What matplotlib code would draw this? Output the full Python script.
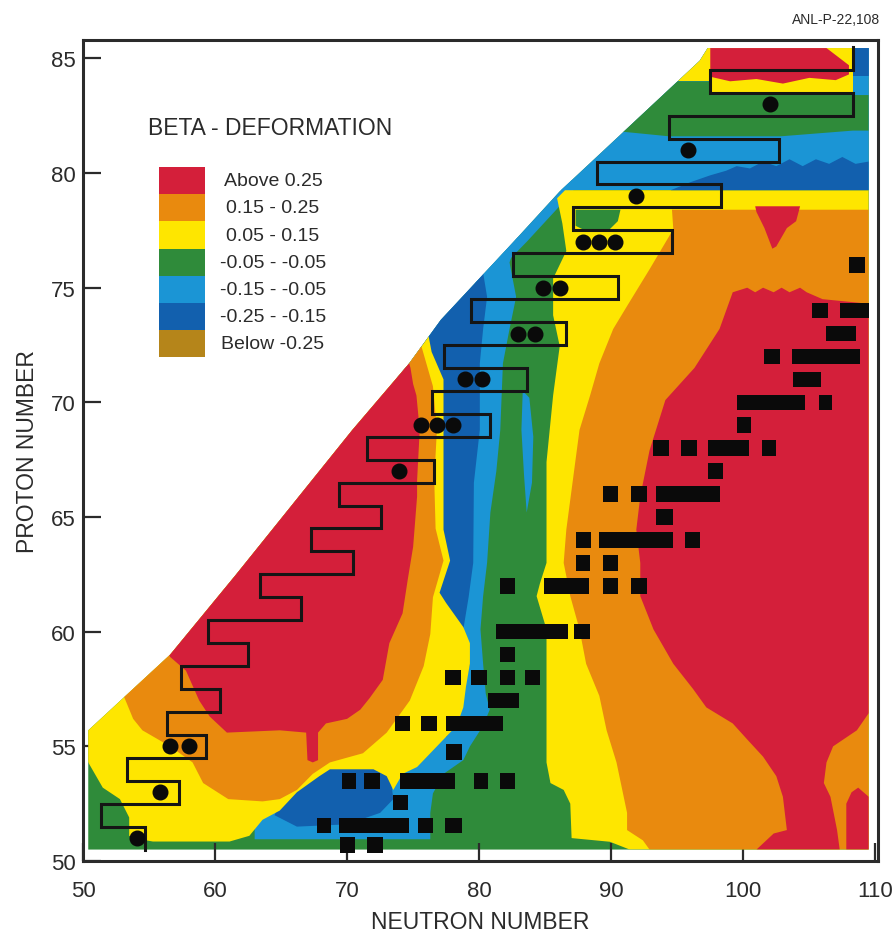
import matplotlib
matplotlib.use("Agg")
import matplotlib.pyplot as plt
from matplotlib.patches import Polygon, Rectangle

plt.rcParams['font.family'] = ['Liberation Sans Narrow', 'Liberation Sans', 'DejaVu Sans']

# legend bands of beta deformation
band_labels = ["Above 0.25", "0.15 - 0.25", "0.05 - 0.15", "-0.05 - -0.05",
               "-0.15 - -0.05", "-0.25 - -0.15", "Below -0.25"]
band_colors = ['#d41f3a', '#e98a0e', '#fee600', '#2f8b3a', '#1b95d5', '#1260ae', '#b5851a']
RED, ORANGE, YELLOW, GREEN, LBLUE, DBLUE, BROWN = band_colors

# contour regions, as (N, Z) outlines
chart_area = [(50.4, 50.5), (109.5, 50.5), (109.5, 85.45), (97.3, 85.45), (96.7, 84.9),
              (86.1, 79.2), (82.6, 77.0), (77.1, 73.6), (74.7, 71.7), (70.4, 68.8),
              (61.6, 62.5), (56.6, 59.0), (50.4, 55.7)]

blue_column = [(63.0, 50.95), (76.3, 50.95), (76.3, 52.1), (76.5, 52.95), (77.3, 53.8),
               (78.8, 54.4), (79.3, 55.0), (80.3, 55.9), (80.8, 56.6), (80.5, 57.3),
               (80.3, 58.6), (80.1, 60.1), (80.3, 61.55), (80.6, 63.0), (80.85, 65.2),
               (81.3, 67.0), (81.6, 68.8), (81.8, 71.7), (82.3, 73.2), (82.8, 74.6),
               (82.3, 76.1), (83.0, 77.3), (80.0, 77.3), (74.0, 73.0), (73.0, 65.0),
               (68.0, 57.0), (63.0, 52.5)]
blue_edge = [(80.0, 75.0), (81.9, 76.0), (83.6, 77.0), (85.2, 78.0), (86.8, 79.0),
             (87.5, 79.5), (85.0, 80.5), (78.0, 76.5)]
blue_tongue = [(83.3, 70.5), (83.8, 70.2), (84.1, 68.5), (84.0, 66.5), (83.6, 65.2),
               (83.4, 66.8), (83.2, 68.8)]
dblue_column = [(80.2, 76.0), (80.6, 74.6), (80.3, 73.2), (80.05, 71.7), (80.05, 68.8),
                (79.6, 66.5), (79.55, 63.0), (79.2, 61.5), (78.8, 60.1), (79.3, 58.6),
                (78.8, 57.2), (78.2, 55.9), (77.5, 55.4), (76.0, 56.5), (75.0, 62.0),
                (74.0, 72.0), (76.0, 76.0)]
dblue_lower = [(64.5, 52.0), (65.5, 53.2), (67.5, 54.2), (72.5, 54.2), (73.3, 53.6),
               (73.5, 52.7), (72.5, 52.1), (70.0, 51.6), (66.2, 51.5)]

yellow_left = [(50.4, 54.3), (49.5, 56.0), (55.0, 60.5), (70.0, 70.0), (76.0, 73.4),
               (76.4, 72.2), (77.3, 71.0), (77.3, 68.8), (77.3, 66.6), (77.3, 64.45),
               (77.8, 63.1), (77.0, 61.7), (77.5, 61.25), (78.8, 60.2), (79.3, 59.5),
               (79.3, 58.6), (79.0, 57.6), (78.8, 56.7), (78.3, 55.9), (76.8, 55.0),
               (75.3, 54.1), (74.2, 53.8), (73.5, 53.1), (73.0, 53.7), (72.0, 54.0),
               (68.7, 54.0), (67.9, 53.7), (66.2, 53.0), (64.9, 52.2), (63.6, 51.8),
               (62.6, 51.1), (61.1, 50.85), (55.3, 50.85), (54.8, 50.9), (53.5, 51.1),
               (53.5, 51.9), (52.8, 52.7), (51.5, 53.2)]
orange_left = [(53.3, 56.9), (52.5, 58.0), (60.0, 63.0), (70.0, 70.5), (75.2, 73.2),
               (75.7, 72.3), (76.5, 70.7), (76.8, 68.8), (76.6, 66.6), (76.7, 64.5),
               (77.3, 63.1), (76.5, 61.5), (76.3, 59.9), (75.8, 58.5), (74.75, 57.0),
               (73.0, 55.6), (71.2, 54.7), (68.7, 54.3), (67.4, 53.8), (66.2, 53.1),
               (64.9, 52.7), (63.6, 52.6), (61.0, 52.7), (59.1, 53.4), (58.3, 54.3),
               (56.6, 55.0), (54.5, 55.7), (53.8, 56.2)]
red_left = [(56.0, 59.5), (70.0, 70.0), (74.3, 72.5), (74.8, 71.5), (75.0, 70.8),
            (75.25, 70.3), (75.5, 68.8), (75.3, 66.6), (75.3, 65.9), (75.0, 63.7),
            (74.6, 62.3), (74.2, 60.8), (73.2, 59.5), (72.7, 57.9), (71.7, 57.1),
            (71.0, 56.6), (70.0, 56.2), (68.4, 56.0), (67.8, 55.6), (67.8, 54.4),
            (67.4, 54.3), (67.0, 54.4), (66.9, 55.6), (64.9, 55.7), (60.9, 55.6),
            (59.6, 56.3), (58.8, 57.0), (57.8, 58.3), (56.6, 58.9)]

yellow_right = [(87.0, 51.0), (89.9, 50.84), (91.4, 50.5), (109.5, 50.5), (109.5, 79.25),
                (86.5, 79.25), (85.9, 78.9), (86.3, 77.8), (86.6, 76.6), (85.6, 75.4),
                (85.6, 73.8), (86.1, 72.45), (85.6, 70.3), (85.1, 67.4), (85.1, 63.0),
                (84.6, 62.1), (84.35, 61.55), (85.1, 60.1), (85.1, 58.6), (85.1, 54.3),
                (85.4, 53.4), (86.4, 53.1), (86.9, 52.5)]
green_notch = [(87.3, 78.4), (90.7, 78.4), (90.5, 77.9), (89.8, 77.5), (88.0, 77.5),
               (87.3, 77.7)]
orange_right = [(92.9, 50.5), (109.5, 50.5), (109.5, 78.4), (94.6, 78.4), (94.7, 77.55),
                (92.9, 75.8), (91.2, 74.2), (90.15, 73.2), (89.1, 71.7), (88.4, 70.3),
                (87.6, 68.8), (87.3, 67.5), (86.6, 64.45), (86.4, 63.0), (86.9, 61.55),
                (87.6, 60.1), (88.1, 58.6), (89.1, 57.2), (89.65, 55.7), (90.4, 54.3),
                (91.2, 52.1), (91.2, 51.35), (92.4, 50.9)]
red_right = [(101.0, 50.5), (102.3, 51.2), (103.3, 51.35), (103.0, 52.8), (102.5, 53.7),
             (101.5, 54.55), (100.3, 55.3), (99.2, 56.0), (97.2, 56.7), (96.2, 57.5),
             (94.7, 58.6), (93.2, 60.1), (92.2, 61.55), (92.2, 63.0), (91.9, 64.45),
             (92.2, 65.9), (92.9, 67.9), (94.1, 70.1), (95.2, 70.8), (96.3, 71.5),
             (98.2, 73.2), (99.2, 74.8), (100.3, 75.0), (100.9, 74.8), (101.5, 75.0),
             (102.3, 74.8), (102.9, 75.0), (103.5, 74.8), (104.3, 75.0), (104.8, 74.8),
             (106.0, 74.5), (109.5, 74.3), (109.5, 56.45), (108.6, 55.7), (106.8, 55.0),
             (106.3, 54.3), (106.1, 53.4), (106.6, 52.8), (107.1, 51.35), (107.3, 50.5)]
red_corner = [(107.8, 50.5), (107.8, 52.5), (108.2, 53.0), (108.7, 53.2), (109.5, 52.8),
              (109.5, 50.5)]
red_spike = [(100.9, 78.55), (104.3, 78.55), (104.0, 77.9), (103.3, 77.6), (102.5, 76.8),
             (102.2, 76.7), (101.6, 77.6), (101.0, 78.3)]

blue_top = [(84.0, 79.25), (109.5, 79.25), (109.5, 85.45), (84.0, 85.45)]
dblue_strip = [(94.5, 79.25), (96.0, 79.6), (97.5, 79.9), (98.7, 80.1), (99.5, 80.3),
               (100.5, 80.2), (101.5, 80.5), (102.5, 80.3), (103.5, 80.6), (104.5, 80.3),
               (105.5, 80.6), (106.5, 80.4), (107.5, 80.7), (108.5, 80.4), (109.5, 80.5),
               (109.5, 79.25)]
green_top = [(90.0, 81.85), (94.4, 81.6), (102.8, 81.6), (108.3, 81.85), (109.5, 81.85),
             (109.5, 83.4), (97.5, 83.4), (97.5, 84.0), (94.0, 84.0)]
yellow_top = [(94.0, 84.0), (97.5, 84.0), (97.5, 83.4), (108.3, 83.4), (108.3, 85.45),
              (96.0, 85.45)]
red_top = [(97.5, 85.45), (106.3, 85.45), (108.0, 84.7), (108.0, 84.3), (107.0, 84.05),
           (105.0, 84.15), (103.0, 83.9), (101.0, 84.1), (99.0, 84.0), (97.5, 84.2)]
dblue_corner = [(108.3, 85.45), (109.5, 85.45), (109.5, 84.25), (108.3, 84.25)]

regions = [
    (blue_column, LBLUE), (blue_edge, LBLUE), (blue_tongue, LBLUE),
    (dblue_column, DBLUE), (dblue_lower, DBLUE),
    (yellow_left, YELLOW), (orange_left, ORANGE), (red_left, RED),
    (yellow_right, YELLOW), (green_notch, GREEN), (orange_right, ORANGE),
    (red_right, RED), (red_corner, RED), (red_spike, RED),
    (blue_top, LBLUE), (dblue_strip, DBLUE), (green_top, GREEN), (yellow_top, YELLOW),
    (red_top, RED), (dblue_corner, DBLUE),
]

# staircase outline: one vertical edge per proton number row
step_rows = list(range(85, 50, -1))
step_n = [108.3, 97.5, 108.3, 94.4, 102.7, 88.9, 98.3, 87.1, 94.6, 82.6,
          90.5, 79.4, 86.6, 77.3, 83.6, 76.4, 80.8, 71.5, 76.6, 69.4,
          72.6, 67.3, 70.45, 63.4, 66.5, 59.5, 62.5, 57.45, 60.4, 56.4,
          59.3, 53.3, 57.3, 51.4, 54.7]

# filled circles (proton emitters)
dot_n = [54.1, 55.8, 56.6, 58.0, 73.9, 75.6, 76.8, 78.0, 78.9, 80.2,
         82.95, 84.2, 84.85, 86.1, 87.9, 89.1, 90.3, 91.9, 95.8, 102.0]
dot_z = [51, 53, 55, 55, 67, 69, 69, 69, 71, 71,
         73, 73, 75, 75, 77, 77, 77, 79, 81, 83]

# black squares: row Z, N from, N to
sq_z = [50.7, 50.7,
        51.55, 51.55, 51.55, 51.55,
        52.55,
        53.5, 53.5, 53.5, 53.5, 53.5,
        54.75,
        56, 56, 56,
        57,
        58, 58, 58, 58,
        59,
        60, 60,
        62, 62, 62, 62,
        63, 63,
        64, 64, 64,
        65,
        66, 66, 66,
        67,
        68, 68, 68, 68,
        69,
        70, 70,
        71,
        72, 72,
        73,
        74, 74,
        76]
sq_lo = [69.5, 71.5,
         67.7, 69.4, 75.4, 77.4,
         73.5,
         69.6, 71.3, 74.0, 79.6, 81.6,
         77.5,
         73.6, 75.6, 77.5,
         80.7,
         77.4, 79.4, 81.6, 83.5,
         81.6,
         81.3, 87.2,
         81.6, 84.9, 89.4, 91.5,
         87.3, 89.4,
         87.3, 89.1, 95.6,
         93.4,
         89.4, 91.5, 93.4,
         97.3,
         93.2, 95.3, 97.3, 101.4,
         99.5,
         99.5, 105.7,
         103.8,
         101.6, 103.7,
         106.3,
         105.2, 107.3,
         108.0]
sq_hi = [70.6, 72.7,
         68.8, 74.7, 76.5, 78.7,
         74.6,
         70.7, 72.5, 78.2, 80.7, 82.7,
         78.7,
         74.8, 76.8, 81.8,
         83.0,
         78.6, 80.6, 82.7, 84.6,
         82.7,
         86.7, 88.4,
         82.7, 88.3, 90.5, 92.7,
         88.4, 90.5,
         88.5, 94.7, 96.7,
         94.7,
         90.5, 92.7, 98.2,
         98.5,
         94.4, 96.5, 100.4, 102.5,
         100.6,
         104.7, 106.7,
         105.9,
         102.8, 108.8,
         108.5,
         106.4, 109.5,
         109.2]

x_ticks = [50, 60, 70, 80, 90, 100, 110]
y_ticks = [50, 55, 60, 65, 70, 75, 80, 85]

ink = '#2b2b2b'
fig = plt.figure(figsize=(8.94, 9.45), dpi=100)
ax = fig.add_axes([0.0928, 0.0878, 0.8893, 0.8688])

area = Polygon(chart_area, closed=True, facecolor=GREEN, edgecolor='none', zorder=1)
ax.add_patch(area)
for pts, col in regions:
    p = Polygon(pts, closed=True, facecolor=col, edgecolor='none', zorder=2)
    ax.add_patch(p)
    p.set_clip_path(area)

# staircase
sx, sy = [], []
for z, n in zip(step_rows, step_n):
    sx += [n, n]
    sy += [z + 0.5, z - 0.5]
ax.plot(sx, sy, color='#151515', lw=2.2, zorder=4, solid_joinstyle='miter')

ax.barh(sq_z, [h - l for l, h in zip(sq_lo, sq_hi)], left=sq_lo, height=0.68,
        color='#0a0a0a', zorder=5)
ax.plot(dot_n, dot_z, 'o', color='#0a0a0a', ms=10.5, zorder=6)

# legend
ax.text(0.082, 0.894, "BETA - DEFORMATION", transform=ax.transAxes, fontsize=16.5,
        color=ink, ha='left', va='center')
box_h = 0.033
for i, (lab, col) in enumerate(zip(band_labels, band_colors)):
    y0 = 0.845 - (i + 1) * box_h
    ax.add_patch(Rectangle((0.096, y0), 0.0575, box_h, transform=ax.transAxes,
                           facecolor=col, edgecolor='none', zorder=3))
    ax.text(0.239, y0 + box_h / 2, lab, transform=ax.transAxes, fontsize=14,
            color=ink, ha='center', va='center')

ax.set_xlim(50, 110.2)
ax.set_ylim(50, 85.8)
ax.set_xticks(x_ticks)
ax.set_yticks(y_ticks)
ax.tick_params(axis='both', direction='in', length=13, width=1.6, colors=ink,
               labelsize=16)
ax.tick_params(axis='x', pad=14)
ax.tick_params(axis='y', pad=5)
for s in ax.spines.values():
    s.set_linewidth(2.2)
    s.set_color(ink)

ax.set_xlabel("NEUTRON NUMBER", fontsize=16.5, color=ink, labelpad=6)
ax.set_ylabel("PROTON NUMBER", fontsize=16.5, color=ink, labelpad=9)
fig.text(0.984, 0.986, "ANL-P-22,108", fontsize=10, color=ink, ha='right', va='top')

fig.savefig("out.png", dpi=100)
